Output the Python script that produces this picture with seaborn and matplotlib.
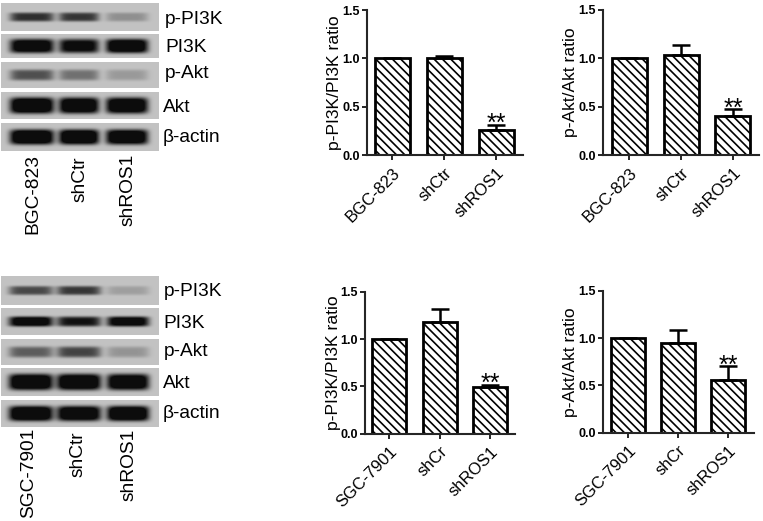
import numpy as np
import matplotlib
matplotlib.use('Agg')
import matplotlib.pyplot as plt
import seaborn as sns

sns.set_style('ticks')
plt.rcParams['font.family'] = ['Liberation Sans', 'DejaVu Sans']
plt.rcParams['hatch.linewidth'] = 1.2
plt.rcParams['text.color'] = 'black'
plt.rcParams['axes.labelcolor'] = 'black'

W, H = 763, 521

# blot bands, darkness per row and lane
blot_rows = ['p-PI3K', 'PI3K', 'p-Akt', 'Akt', 'β-actin']
top_dark = [[.58, .55, .20], [.90, .80, .95], [.45, .32, .16], [1.0, .95, .95], [1.0, 1.0, .95]]
bot_dark = [[.48, .55, .14], [.88, .70, .85], [.40, .50, .18], [1.0, 1.0, .95], [1.0, .95, 1.0]]
top_thick = [4.5, 7.0, 5.5, 8.0, 7.5]
bot_thick = [4.5, 5.0, 5.5, 8.0, 7.5]
top_strips = [(3, 31), (34, 58), (62, 88), (92, 119), (123, 151)]
bot_strips = [(276, 305), (308, 335), (339, 365), (368, 396), (400, 427)]
top_lanes = [(32, 22), (79, 20), (127, 21)]
bot_lanes = [(31, 22), (79, 22), (128, 21)]

top_lane_names = ['BGC-823', 'shCtr', 'shROS1']
bot_lane_names = ['SGC-7901', 'shCtr', 'shROS1']

# bar data
cats_a = ['BGC-823', 'shCtr', 'shROS1']
cats_b = ['SGC-7901', 'shCr', 'shROS1']
pi3k_top = [1.0, 1.0, 0.26]
pi3k_top_err = [np.nan, 0.02, 0.05]
akt_top = [1.0, 1.03, 0.40]
akt_top_err = [np.nan, 0.10, 0.07]
pi3k_bot = [1.0, 1.18, 0.49]
pi3k_bot_err = [np.nan, 0.14, 0.03]
akt_bot = [1.0, 0.95, 0.56]
akt_bot_err = [np.nan, 0.14, 0.14]


def draw_blot(bg, strips, lanes, dark, thick):
    for (y0, y1), row_dark, t in zip(strips, dark, thick):
        xs = np.arange(1, 159) + 0.5
        ys = np.arange(y0, y1) + 0.5
        xx, yy = np.meshgrid(xs, ys)
        img = np.full(xx.shape, 0.76)
        yc = (y0 + y1) / 2
        for (xc, hw), d in zip(lanes, row_dark):
            prof = np.exp(-((xx - xc) / hw) ** 6 - ((yy - yc) / t) ** 4)
            img -= d * prof
        bg.imshow(np.clip(img, 0.05, 1), cmap='gray', vmin=0, vmax=1, extent=(1, 159, y1, y0),
                  aspect='auto', interpolation='bilinear')


def draw_bars(box, cats, vals, errs, ylabel):
    left, right, top, bottom, c0, step, bw = box
    ax = fig.add_axes([left / W, 1 - bottom / H, (right - left) / W, (bottom - top) / H])
    sns.barplot(x=cats, y=vals, ax=ax, color='white', edgecolor='black', linewidth=2,
                hatch='\\\\\\\\', width=bw / step, saturation=1)
    ax.errorbar(range(3), vals, yerr=[[0, 0, 0], errs], fmt='none', ecolor='black',
                elinewidth=1.8, capsize=6.5, capthick=1.8)
    ax.set_xlim((left - c0) / step, (right - c0) / step)
    ax.set_ylim(0, 1.5)
    ax.set_yticks([0, 0.5, 1.0, 1.5])
    ax.set_yticklabels(['0.0', '0.5', '1.0', '1.5'], fontsize=9, fontweight='bold')
    ax.set_ylabel(ylabel, fontsize=12.6, labelpad=0)
    ax.set_xlabel('')
    ax.tick_params(axis='y', length=3.5, width=1.2, pad=1.5, colors='black')
    ax.tick_params(axis='x', length=3.5, width=1.2, pad=4, colors='black')
    plt.setp(ax.get_xticklabels(), rotation=45, ha='right', rotation_mode='anchor', fontsize=12)
    for s in ['left', 'bottom']:
        ax.spines[s].set_linewidth(1.5)
    ax.patch.set_alpha(0)
    sns.despine(ax=ax)
    ax.annotate('**', (2, vals[2] + errs[2]), xytext=(0, -8), textcoords='offset points',
                ha='center', va='bottom', fontsize=18)


fig = plt.figure(figsize=(W / 100, H / 100), dpi=100)
bg = fig.add_axes([0, 0, 1, 1])
draw_blot(bg, top_strips, top_lanes, top_dark, top_thick)
draw_blot(bg, bot_strips, bot_lanes, bot_dark, bot_thick)
bg.set_xlim(0, W)
bg.set_ylim(H, 0)
bg.axis('off')

for name, x, y in zip(blot_rows, [165, 165, 165, 163, 163], [19, 47, 74, 107, 137]):
    bg.text(x, y, name, fontsize=13.8, va='center')
for name, x, y in zip(blot_rows, [164, 163, 164, 163, 163], [291, 323, 351, 383, 414]):
    bg.text(x, y, name, fontsize=13.8, va='center')
for name, x, y in zip(top_lane_names, [33, 80, 128], [234, 202, 226]):
    bg.text(x, y, name, fontsize=13.8, rotation=90, ha='center', va='bottom')
for name, x, y in zip(bot_lane_names, [29, 78, 129], [518, 477, 501]):
    bg.text(x, y, name, fontsize=13.8, rotation=90, ha='center', va='bottom')

draw_bars((366.5, 523, 10, 155, 392, 52, 35), cats_a, pi3k_top, pi3k_top_err, 'p-PI3K/PI3K ratio')
draw_bars((602.7, 759, 9.5, 155, 629, 52, 35), cats_a, akt_top, akt_top_err, 'p-Akt/Akt ratio')
draw_bars((365, 515, 292, 433.7, 389, 50.5, 34), cats_b, pi3k_bot, pi3k_bot_err, 'p-PI3K/PI3K ratio')
draw_bars((602.7, 754, 290.7, 432.7, 628, 50, 34), cats_b, akt_bot, akt_bot_err, 'p-Akt/Akt ratio')

fig.savefig('out.png', dpi=100)
